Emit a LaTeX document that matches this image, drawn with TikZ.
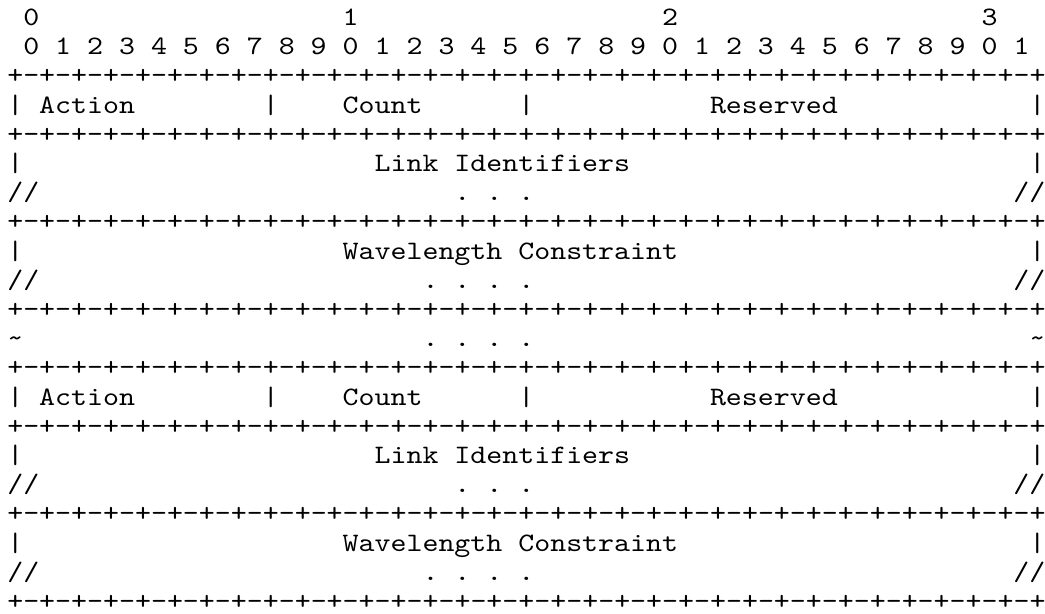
\documentclass[tikz,border=0pt]{standalone}
\usepackage{fontspec}
\newfontfamily\monof{Latin Modern Mono}[FakeStretch=1.143]
\def\oct{-+-+-+-+-+-+-+-+}
\def\sepline{+\oct\oct\oct\oct}
\begin{document}
\begin{tikzpicture}[x=6pt,y=-10.97pt,
  txt/.style={anchor=base west,inner sep=0pt,outer sep=0pt,font=\monof\fontsize{10pt}{10pt}\selectfont\frenchspacing}]
\useasboundingbox[fill=white] (-2.74pt,9.58pt) rectangle (389.86pt,-220.72pt);
% bit numbers
\node[txt] (t0) at (1,0) {0};
\node[txt] (t1) at (21,0) {1};
\node[txt] (t2) at (41,0) {2};
\node[txt] (t3) at (61,0) {3};
\node[txt] (bits) at (1,1) {0 1 2 3 4 5 6 7 8 9 0 1 2 3 4 5 6 7 8 9 0 1 2 3 4 5 6 7 8 9 0 1};
% separator lines
\foreach \r in {2,4,7,10,12,14,17,20}
  \node[txt] (sep\r) at (0,\r) {\sepline};
% header rows
\foreach \r in {3,13}{
  \node[txt] (la\r) at (0,\r) {|};
  \node[txt] (act\r) at (2,\r) {Action};
  \node[txt] (lb\r) at (16,\r) {|};
  \node[txt] (cnt\r) at (21,\r) {Count};
  \node[txt] (lc\r) at (32,\r) {|};
  \node[txt] (res\r) at (44,\r) {Reserved};
  \node[txt] (ld\r) at (64,\r) {|};
}
% link identifiers
\foreach \r in {5,15}{
  \node[txt] (lia\r) at (0,\r) {|};
  \node[txt] (lid\r) at (23,\r) {Link Identifiers};
  \node[txt] (lib\r) at (64,\r) {|};
}
\foreach \r in {6,16}{
  \node[txt] (sla\r) at (0,\r) {//};
  \node[txt] (dots\r) at (28,\r) {. . .};
  \node[txt] (slb\r) at (63,\r) {//};
}
% wavelength constraint
\foreach \r in {8,18}{
  \node[txt] (wca\r) at (0,\r) {|};
  \node[txt] (wc\r) at (21,\r) {Wavelength Constraint};
  \node[txt] (wcb\r) at (64,\r) {|};
}
\foreach \r in {9,19}{
  \node[txt] (wsa\r) at (0,\r) {//};
  \node[txt] (wdots\r) at (26,\r) {. . . .};
  \node[txt] (wsb\r) at (63,\r) {//};
}
% continuation
\node[txt] (tila) at (0,11) {\textasciitilde};
\node[txt] (cdots) at (26,11) {. . . .};
\node[txt] (tilb) at (64,11) {\textasciitilde};
\end{tikzpicture}
\end{document}
